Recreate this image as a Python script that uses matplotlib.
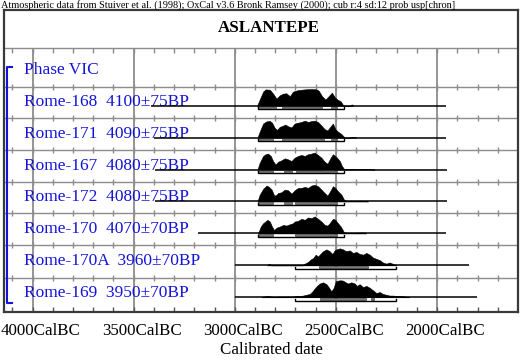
import matplotlib
matplotlib.use('Agg')
import matplotlib.pyplot as plt
import numpy as np
from matplotlib.patches import Rectangle

plt.rcParams['font.family'] = ['Liberation Serif', 'DejaVu Serif']

# ---- data (years cal BC, relative probability) ----
header = ("Atmospheric data from Stuiver et al. (1998); OxCal v3.6 Bronk Ramsey (2000); "
          "cub r:4 sd:12 prob usp[chron]")
title = "ASLANTEPE"
phase = "Phase VIC"
labels = ["Rome-168  4100\u00b175BP", "Rome-171  4090\u00b175BP", "Rome-167  4080\u00b175BP",
          "Rome-172  4080\u00b175BP", "Rome-170  4070\u00b170BP", "Rome-170A  3960\u00b170BP",
          "Rome-169  3950\u00b170BP"]
major_years = [4000, 3500, 3000, 2500, 2000]
major_labels = ["4000CalBC", "3500CalBC", "3000CalBC", "2500CalBC", "2000CalBC"]
minor_years = list(range(4100, 1600, -100))

yr_168 = [2890, 2877, 2860, 2848, 2827, 2811, 2794, 2778, 2761, 2745, 2728, 2712, 2687, 2654,
          2621, 2596, 2585, 2569, 2552, 2536, 2520, 2506, 2493, 2476, 2465, 2457, 2430, 2422, 2414]
p_168 = [0, 0.36, 0.83, 0.96, 0.94, 0.71, 0.42, 0.61, 0.71, 0.73, 0.56, 0.83, 0.92, 0.96,
         0.98, 0.96, 0.88, 0.56, 0.36, 0.56, 0.77, 0.5, 0.36, 0.25, 0.04, 0, 0, 0.08, 0]

yr_171 = [2888, 2877, 2860, 2843, 2827, 2816, 2802, 2791, 2778, 2761, 2750, 2737, 2720, 2704,
          2687, 2671, 2654, 2638, 2621, 2605, 2589, 2572, 2556, 2542, 2526, 2515, 2503, 2490,
          2473, 2460, 2457, 2430, 2425, 2405, 2400]
p_171 = [0, 0.35, 0.83, 0.96, 0.98, 0.88, 0.56, 0.46, 0.63, 0.71, 0.77, 0.67, 0.6, 0.83,
         0.88, 0.92, 1.0, 0.92, 0.98, 1.0, 0.92, 0.71, 0.5, 0.42, 0.67, 0.83, 0.5, 0.35,
         0.21, 0.04, 0, 0, 0.04, 0.04, 0]

yr_167 = [2888, 2877, 2860, 2848, 2836, 2822, 2811, 2799, 2786, 2770, 2753, 2737, 2720, 2704,
          2687, 2671, 2654, 2638, 2621, 2605, 2589, 2572, 2556, 2542, 2526, 2515, 2498, 2481,
          2470, 2460, 2440, 2416, 2391, 2383, 2358, 2333, 2309]
p_167 = [0, 0.4, 0.8, 0.9, 0.94, 0.8, 0.5, 0.3, 0.46, 0.54, 0.66, 0.6, 0.5, 0.7,
         0.8, 0.86, 0.8, 0.9, 0.94, 1.0, 0.86, 0.7, 0.46, 0.34, 0.7, 0.9, 0.74, 0.5,
         0.2, 0.04, 0.03, 0.05, 0.02, 0.04, 0.03, 0.02, 0]

yr_172 = [2888, 2877, 2860, 2843, 2831, 2818, 2805, 2793, 2786, 2770, 2753, 2737, 2720, 2704,
          2687, 2671, 2654, 2638, 2621, 2605, 2589, 2572, 2556, 2542, 2526, 2515, 2503, 2490,
          2473, 2460, 2449, 2408, 2383, 2355, 2342]
p_172 = [0, 0.4, 0.74, 0.94, 0.86, 0.7, 0.34, 0.4, 0.5, 0.54, 0.7, 0.66, 0.46, 0.66,
         0.8, 0.8, 0.86, 0.8, 0.94, 0.98, 0.9, 0.7, 0.5, 0.34, 0.66, 0.9, 0.8, 0.6,
         0.4, 0.1, 0.03, 0.02, 0.05, 0.03, 0]

yr_170 = [2885, 2872, 2860, 2849, 2839, 2827, 2816, 2806, 2793, 2778, 2761, 2745, 2728, 2712,
          2704, 2687, 2671, 2654, 2638, 2621, 2605, 2589, 2572, 2556, 2542, 2531, 2515, 2503,
          2490, 2476, 2460, 2440, 2408, 2383, 2361, 2350]
p_170 = [0, 0.4, 0.6, 0.7, 0.8, 0.7, 0.4, 0.2, 0.34, 0.4, 0.5, 0.46, 0.54, 0.6,
         0.7, 0.74, 0.86, 0.8, 0.94, 0.9, 1.0, 0.86, 0.7, 0.5, 0.46, 0.6, 0.86, 0.8,
         0.6, 0.4, 0.06, 0.02, 0.02, 0.05, 0.05, 0]

yr_170a = [2840, 2831, 2819, 2666, 2654, 2638, 2621, 2613, 2600, 2589, 2577, 2564, 2547, 2531,
           2518, 2506, 2498, 2481, 2465, 2449, 2432, 2416, 2399, 2383, 2365, 2350, 2333, 2317,
           2300, 2284, 2268, 2251, 2235, 2221, 2210, 2201]
p_170a = [0, 0.1, 0, 0, 0.1, 0.2, 0.38, 0.42, 0.63, 0.52, 0.67, 0.83, 0.94, 0.83,
          0.67, 0.88, 0.94, 1.0, 0.94, 0.83, 0.88, 0.73, 0.79, 0.67, 0.63, 0.73, 0.63, 0.46,
          0.38, 0.31, 0.17, 0.1, 0.17, 0.1, 0.04, 0]

yr_169 = [2868, 2860, 2836, 2819, 2802, 2786, 2761, 2737, 2712, 2695, 2679, 2663, 2646, 2630,
          2616, 2605, 2594, 2580, 2564, 2547, 2534, 2523, 2511, 2501, 2490, 2478, 2465, 2452,
          2440, 2424, 2407, 2396, 2383, 2366, 2350, 2333, 2316, 2300, 2284, 2267, 2251, 2235,
          2218, 2201, 2185, 2169, 2152, 2136]
p_169 = [0, 0.04, 0.08, 0.04, 0, 0.04, 0.04, 0.04, 0.04, 0.08, 0.08, 0.1, 0.15, 0.19,
         0.35, 0.52, 0.67, 0.81, 0.88, 0.77, 0.56, 0.35, 0.56, 0.94, 0.98, 1.0, 0.98, 0.88,
         0.81, 0.88, 0.81, 0.67, 0.77, 0.6, 0.67, 0.56, 0.4, 0.25, 0.31, 0.19, 0.15, 0.1,
         0.1, 0.08, 0.08, 0.06, 0.04, 0]

years = [yr_168, yr_171, yr_167, yr_172, yr_170, yr_170a, yr_169]
probs = [p_168, p_171, p_167, p_172, p_170, p_170a, p_169]

# extent of each calibrated curve (baseline)
spans = [(3415, 1956), (3400, 1956), (3395, 1951), (3395, 1951), (3183, 1956),
         (3000, 1840), (3000, 1805)]
# 68.2% ranges
r68 = [[(2885, 2796), (2766, 2569), (2524, 2494)],
       [(2885, 2811), (2766, 2557), (2524, 2496)],
       [(2884, 2809), (2755, 2718), (2699, 2554), (2550, 2496)],
       [(2884, 2811), (2757, 2718), (2700, 2554), (2550, 2494)],
       [(2884, 2809), (2704, 2496)],
       [(2584, 2342)],
       [(2577, 2350), (2325, 2314)]]
# 95.4% ranges
r95 = [(2885, 2459), (2885, 2462), (2887, 2458), (2887, 2458), (2884, 2458),
       (2704, 2201), (2704, 2201)]

# ---- figure ----
W, H = 522, 364
fig = plt.figure(figsize=(W / 100, H / 100), dpi=100)
fig.patch.set_facecolor('white')

ax = fig.add_axes([4 / W, 1 - 312 / H, 514 / W, 302 / H])
ax.set_xlim(4141, 1600)
ax.set_ylim(312, 10)   # pixel rows, downward
ax.set_xticks([])
ax.set_yticks([])
for s in ax.spines.values():
    s.set_linewidth(1.6)
    s.set_color('#3a3a3a')

grid_col = '#8c8c8c'
row_lines = [48, 87, 118, 150, 182, 213, 245, 278]
for yl in row_lines:
    ax.hlines(yl, 4141, 1600, color=grid_col, lw=1.0, zorder=1)
for yv in major_years:
    ax.vlines(yv, 48, 312, color=grid_col, lw=1.3, zorder=1)
# small ticks every 100 years
for yl in row_lines[1:]:
    ax.vlines(minor_years, yl - 3, yl + 3, color=grid_col, lw=1.0, zorder=1)
ax.vlines(minor_years, 48, 53, color=grid_col, lw=1.0, zorder=1)
ax.vlines(minor_years, 307, 312, color='#555555', lw=1.0, zorder=1)

blue = '#1414d8'
px_per_yr = 404.5 / 2000.0


def px2yr(px):
    return 4000 - (px - 32.5) / px_per_yr


ax.text(px2yr(24), 74.5, phase, color=blue, fontsize=12.5, va='baseline', ha='left')

base0, step = 105.7, 31.93
for i, lab in enumerate(labels):
    b = base0 + step * i
    ax.text(px2yr(24), b, lab, color=blue, fontsize=12.5, va='baseline', ha='left', zorder=2)
    ax.hlines(b, spans[i][0], spans[i][1], color='black', lw=1.1, zorder=3)
    p = np.array(probs[i])
    ax.fill_between(years[i], b, b - 17.0 * p, color='black', lw=0.4, zorder=4)
    for a, e in r68[i]:
        ax.add_patch(Rectangle((a, b + 1.0), e - a, 2.0, facecolor='#7a7a7a',
                               edgecolor='#444444', lw=0.5, zorder=4))
    a, e = r95[i]
    ax.plot([a, a, e, e], [b + 1.5, b + 3.8, b + 3.8, b + 1.5], color='black',
            lw=1.0, zorder=4, solid_joinstyle='miter')

# phase bracket
ax.plot([px2yr(12), px2yr(6.5), px2yr(6.5), px2yr(12)], [67, 67, 303, 303],
        color=blue, lw=1.5, clip_on=False, zorder=5)

# title and header
fig.text(269 / W, 1 - 27.5 / H, title, fontsize=12.2, fontweight='bold',
         ha='center', va='center')
fig.text(1 / W, 1 - 4.8 / H, header, fontsize=7.4, ha='left', va='center')

# x labels
for yv, lab in zip(major_years, major_labels):
    xpx = 32.5 + (4000 - yv) * px_per_yr + 8
    fig.text(xpx / W, 1 - 331 / H, lab, fontsize=12.2, ha='center', va='center')
fig.text(271.5 / W, 1 - 350 / H, "Calibrated date", fontsize=12.2, ha='center', va='center')

fig.savefig('out.png', dpi=100)
